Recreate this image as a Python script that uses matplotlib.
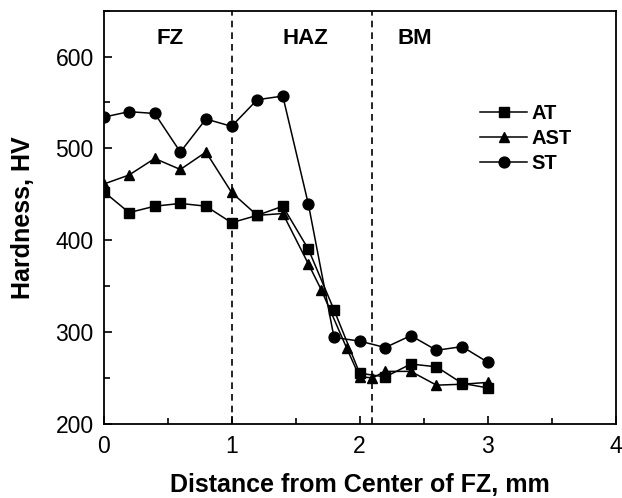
import numpy as np
import matplotlib.pyplot as plt
from matplotlib.ticker import MultipleLocator

plt.rcParams["font.family"] = ["Liberation Sans", "DejaVu Sans"]

# hardness profiles
x_at = [0, 0.2, 0.4, 0.6, 0.8, 1.0, 1.2, 1.4, 1.6, 1.8, 2.0, 2.2, 2.4, 2.6, 2.8, 3.0]
hv_at = [453, 430, 437, 440, 437, 419, 427, 437, 390, 324, 255, 251, 265, 262, 244, 239]

x_ast = [0, 0.2, 0.4, 0.6, 0.8, 1.0, 1.2, 1.4, 1.6, 1.7, 1.9, 2.0, 2.1, 2.2, 2.4, 2.6, 2.8, 3.0]
hv_ast = [461, 471, 489, 477, 496, 452, 427, 429, 374, 346, 282, 251, 250, 257, 257, 242, 243, 245]

x_st = [0, 0.2, 0.4, 0.6, 0.8, 1.0, 1.2, 1.4, 1.6, 1.8, 2.0, 2.2, 2.4, 2.6, 2.8, 3.0]
hv_st = [534, 540, 538, 496, 532, 524, 553, 557, 439, 294, 290, 283, 296, 280, 284, 267]

zone_bounds = [1.0, 2.1]
zone_names = ["FZ", "HAZ", "BM"]
zone_pos = [0.52, 1.58, 2.43]

fig = plt.figure(figsize=(6.22, 4.98), dpi=100)
ax = fig.add_axes([0.1664, 0.1492, 0.8236, 0.8293])

ax.plot(x_at, hv_at, "-s", color="black", lw=1.1, ms=6.8, label="AT")
ax.plot(x_ast, hv_ast, "-^", color="black", lw=1.1, ms=7.8, label="AST")
ax.plot(x_st, hv_st, "-o", color="black", lw=1.1, ms=7.8, label="ST")

for xb in zone_bounds:
    ax.axvline(xb, color="black", ls="--", lw=1.2, dashes=(4, 3))
for name, xp in zip(zone_names, zone_pos):
    ax.text(xp, 620, name, ha="center", va="center", fontsize=16, fontweight="bold")

ax.set_xlim(0, 4)
ax.set_ylim(200, 650)
ax.xaxis.set_major_locator(MultipleLocator(1))
ax.xaxis.set_minor_locator(MultipleLocator(0.5))
ax.yaxis.set_major_locator(MultipleLocator(100))
ax.yaxis.set_minor_locator(MultipleLocator(50))
ax.tick_params(which="both", direction="in", width=1.2, labelsize=16.5)
ax.tick_params(which="major", length=6)
ax.tick_params(which="minor", length=4)
ax.tick_params(axis="x", pad=8)
ax.tick_params(axis="y", pad=7)
for sp in ax.spines.values():
    sp.set_linewidth(1.3)

ax.set_xlabel("Distance from Center of FZ, mm", fontsize=18, fontweight="bold", labelpad=11)
ax.set_ylabel("Hardness, HV", fontsize=18, fontweight="bold", labelpad=15)

ax.legend(loc="upper left", bbox_to_anchor=(0.72, 0.793), borderaxespad=0,
          frameon=False, prop={"size": 14.5, "weight": "bold"}, handlelength=2.3,
          handletextpad=0.25, labelspacing=0.3)

plt.savefig("out.png", dpi=100)
